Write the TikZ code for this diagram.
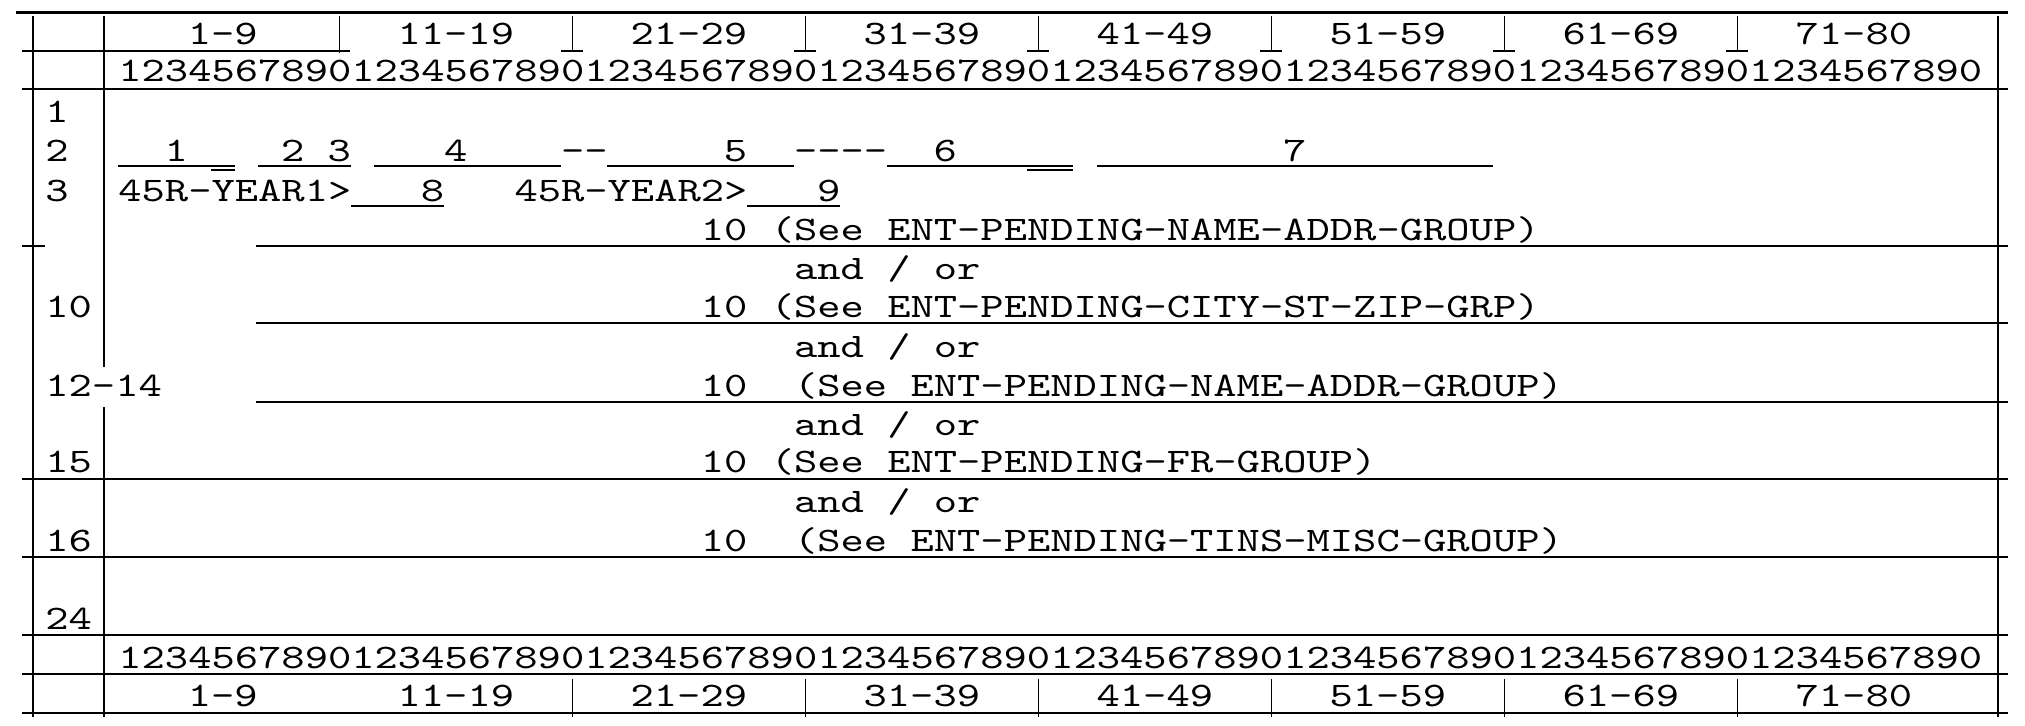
\documentclass[tikz,border=0pt]{standalone}
\usepackage{fontspec}
\setmonofont[FakeStretch=1.29]{lmmono10-regular.otf}
\usepackage{xcolor}
\usetikzlibrary{calc}
\definecolor{paper}{HTML}{FFFFFF}
\definecolor{ink}{HTML}{000000}
\tikzset{
  rule/.style={draw=ink, line width=0.85pt},
  heavy/.style={draw=ink, line width=1.3pt},
  fld/.style={draw=ink, line width=0.55pt},
  txt/.style={inner sep=0pt, anchor=base west, text=ink, font=\ttfamily\fontsize{17.2}{18}\selectfont},
  ctr/.style={txt, anchor=base},
}
\begin{document}
\begin{tikzpicture}[x=0.5pt, y=-0.5pt]
  \def\xo{118}
  \def\w{23.3}
  \path[fill=paper] (0,0) rectangle (2025,726);
  \useasboundingbox (0,0) rectangle (2025,726);
  % frame
  \draw[heavy] (16,12.7) -- (2008,12.7);
  \draw[rule] (22,51) -- (350,51);
  \foreach \y in {89,479,557,635,674,713} \draw[rule] (22,\y) -- (2008,\y);
  \foreach \y in {246,323,402} \draw[rule] (256,\y) -- (2008,\y);
  \draw[rule] (22,246) -- (45,246);
  \draw[rule] (33,16) -- (33,717);
  \draw[rule] (104,16) -- (104,367) (104,407) -- (104,717);
  \draw[rule] (1998,16) -- (1998,717);
  \draw[rule] ({\xo+9.5*\w},16) -- ({\xo+9.5*\w},53);
  \foreach \k in {2,...,7} {
    \draw[rule] ({\xo+(10*\k-0.5)*\w},16) -- ({\xo+(10*\k-0.5)*\w},51);
    \draw[rule] ({\xo+(10*\k-0.5)*\w-11},51) -- ({\xo+(10*\k-0.5)*\w+11},51);
    \draw[rule] ({\xo+(10*\k-0.5)*\w},679) -- ({\xo+(10*\k-0.5)*\w},717);
  }
  % column rulers
  \foreach \k/\lab in {0/1-9,1/11-19,2/21-29,3/31-39,4/41-49,5/51-59,6/61-69,7/71-80} {
    \node[ctr] (top\k) at ({\xo+(10*\k+4.5)*\w},45) {\lab};
    \node[ctr] (bot\k) at ({\xo+(10*\k+4.5)*\w},707) {\lab};
  }
  \node[txt] (digtop) at (\xo,82) {12345678901234567890123456789012345678901234567890123456789012345678901234567890};
  \node[txt] (digbot) at (\xo,669) {12345678901234567890123456789012345678901234567890123456789012345678901234567890};
  % line numbers
  \foreach \y/\lab [count=\i] in {123/1,162/2,202/3,318/10,397/12-14,473/15,552/16,630/24}
    \node[txt] (line\i) at (45,\y) {\lab};
  % line 2 fields
  \draw[fld] (118,166) -- (234.5,166) (211.2,170) -- (234.5,170);
  \draw[fld] (257.8,166) -- (351,166);
  \draw[fld] (374.3,166) -- (560.7,166);
  \draw[fld] (607.3,166) -- (793.7,166);
  \draw[fld] (886.9,166) -- (1073.3,166) (1026.7,170) -- (1073.3,170);
  \draw[fld] (1096.6,166) -- (1492.7,166);
  \node[ctr] (f1) at (176.25,162) {1};
  \node[ctr] (f2) at (292.75,162) {2};
  \node[ctr] (f3) at (339.35,162) {3};
  \node[ctr] (f4) at (455.85,162) {4};
  \node[txt] (dashA) at (560.7,162) {--};
  \node[ctr] (f5) at (735.45,162) {5};
  \node[txt] (dashB) at (793.7,162) {----};
  \node[ctr] (f6) at (945.15,162) {6};
  \node[ctr] (f7) at (1294.65,162) {7};
  % line 3 fields
  \draw[fld] (351,206) -- (444.2,206);
  \draw[fld] (747.1,206) -- (840.3,206);
  \node[txt] (yearA) at (\xo,202) {45R-YEAR1>};
  \node[ctr] (f8) at (432.55,202) {8};
  \node[txt] (yearB) at (514.1,202) {45R-YEAR2>};
  \node[ctr] (f9) at (828.65,202) {9};
  % groups
  \node[txt] (grpA) at (700.5,241) {10 (See ENT-PENDING-NAME-ADDR-GROUP)};
  \node[txt] (grpB) at (700.5,318) {10 (See ENT-PENDING-CITY-ST-ZIP-GRP)};
  \node[txt] (grpC) at (700.5,397) {10~~(See ENT-PENDING-NAME-ADDR-GROUP)};
  \node[txt] (grpD) at (700.5,473) {10 (See ENT-PENDING-FR-GROUP)};
  \node[txt] (grpE) at (700.5,552) {10~~(See ENT-PENDING-TINS-MISC-GROUP)};
  \foreach \y [count=\i] in {280,358,436,513}
    \node[txt] (andor\i) at (793.7,\y) {and / or};
\end{tikzpicture}
\end{document}
